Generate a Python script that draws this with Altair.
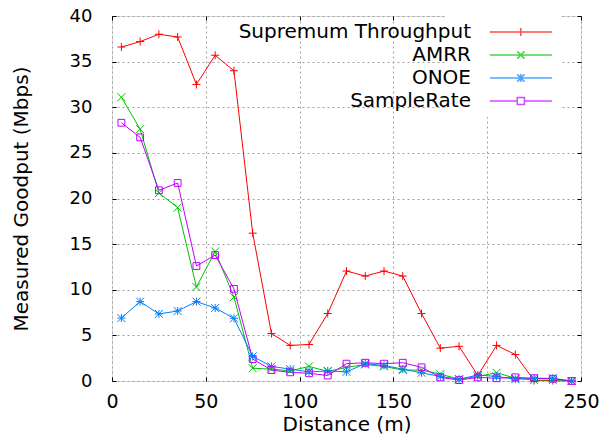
import altair as alt
import pandas as pd

distance = [5, 15, 25, 35, 45, 55, 65, 75, 85, 95, 105, 115, 125, 135, 145,
            155, 165, 175, 185, 195, 205, 215, 225, 235, 245]
supremum = [36.6, 37.2, 38.0, 37.7, 32.5, 35.7, 34.0, 16.2, 5.2, 3.9, 4.0, 7.4,
            12.05, 11.5, 12.05, 11.5, 7.4, 3.6, 3.8, 0.6, 3.9, 2.9, 0.05, 0.05, 0.0]
amrr = [31.1, 27.6, 20.6, 19.0, 10.3, 14.2, 9.2, 1.4, 1.3, 1.1, 1.6, 1.05, 1.5,
        1.8, 1.6, 1.2, 1.2, 0.75, 0.2, 0.5, 0.9, 0.3, 0.1, 0.1, 0.0]
onoe = [6.9, 8.7, 7.35, 7.67, 8.7, 8.0, 6.87, 2.7, 1.6, 1.3, 1.0, 1.1, 1.0, 1.9,
        1.7, 1.3, 0.9, 0.5, 0.2, 0.65, 0.5, 0.2, 0.3, 0.3, 0.0]
samplerate = [28.3, 26.7, 20.9, 21.7, 12.6, 13.8, 10.1, 2.4, 1.2, 0.95, 0.85, 0.6,
              1.9, 2.0, 1.9, 2.0, 1.5, 0.4, 0.1, 0.4, 0.3, 0.4, 0.3, 0.25, 0.0]

x_ticks = [0, 50, 100, 150, 200, 250]
y_ticks = [0, 5, 10, 15, 20, 25, 30, 35, 40]

series_names = ["Supremum Throughput", "AMRR", "ONOE", "SampleRate"]
series_values = [supremum, amrr, onoe, samplerate]
colors = ["#ff0000", "#00c000", "#0080ff", "#c000ff"]
marker_paths = [
    "M-1,0H1M0,-1V1",
    "M-1,-1L1,1M-1,1L1,-1",
    "M-1,0H1M0,-1V1M-1,-1L1,1M-1,1L1,-1",
    "M-0.85,-0.85H0.85V0.85H-0.85Z",
]
# legend sample: a line with the marker in its middle, drawn to the right of the label
legend_paths = [
    "M3.2,0H10.1M6.65,-0.45V0.45",
    "M3.2,0H10.1M6.25,-0.4L7.05,0.4M6.25,0.4L7.05,-0.4",
    "M3.2,0H10.1M6.65,-0.45V0.45M6.25,-0.4L7.05,0.4M6.25,0.4L7.05,-0.4",
    "M3.2,0H6.25M7.05,0H10.1M6.25,-0.4H7.05V0.4H6.25Z",
]

rows = []
for name, vals in zip(series_names, series_values):
    for d, v in zip(distance, vals):
        rows.append({"Distance": d, "Goodput": v, "Series": name})
df = pd.DataFrame(rows)

FONT = "DejaVu Sans"
TICK = 4

x_enc = alt.X("Distance:Q", scale=alt.Scale(domain=[0, 250], nice=False),
              axis=alt.Axis(title="Distance (m)", values=x_ticks,
                            grid=True, gridDash=[2, 3], gridColor="#a0a0a0",
                            ticks=True, tickSize=TICK, tickColor="black", offset=-TICK,
                            domain=False, labelPadding=11,
                            labelFontSize=19, labelFont=FONT, labelColor="black",
                            titleFontSize=20, titleFont=FONT, titleFontWeight="normal",
                            titleColor="black", titlePadding=3, labelFlush=False))
y_enc = alt.Y("Goodput:Q", scale=alt.Scale(domain=[0, 40], nice=False),
              axis=alt.Axis(title="Measured Goodput (Mbps)", values=y_ticks,
                            grid=True, gridDash=[2, 3], gridColor="#a0a0a0",
                            ticks=True, tickSize=TICK, tickColor="black", offset=-TICK,
                            domain=False, labelPadding=20,
                            labelFontSize=18, labelFont=FONT, labelColor="black",
                            titleFontSize=20, titleFont=FONT, titleFontWeight="normal",
                            titleColor="black", titlePadding=38))

color_enc = alt.Color("Series:N", scale=alt.Scale(domain=series_names, range=colors),
                      legend=None)

lines = alt.Chart(df).mark_line(strokeWidth=1).encode(
    x=x_enc, y=y_enc, color=color_enc, detail="Series:N")

points = alt.Chart(df).mark_point(filled=False, strokeWidth=1, size=64, opacity=1).encode(
    x=alt.X("Distance:Q", axis=None), y=alt.Y("Goodput:Q", axis=None), color=color_enc,
    shape=alt.Shape("Series:N", scale=alt.Scale(domain=series_names, range=marker_paths),
                    legend=None))

legend = alt.Legend(title=None, orient="none", legendX=333, legendY=0,
                    labelAlign="right", labelOffset=0, labelFontSize=20,
                    labelFont=FONT, labelColor="black", symbolSize=324,
                    symbolStrokeWidth=1.5, rowPadding=3, fillColor="white",
                    padding=6, labelLimit=400)

legend_layer = alt.Chart(df).transform_filter("false").mark_point(
    filled=False, strokeWidth=1.5).encode(
    x=alt.X("Distance:Q", axis=alt.Axis(orient="top", values=x_ticks, labels=False,
                                        title=None, grid=False, domain=False,
                                        ticks=True, tickSize=TICK, tickColor="black",
                                        offset=-TICK)),
    y=alt.Y("Goodput:Q", axis=alt.Axis(orient="right", values=y_ticks, labels=False,
                                       title=None, grid=False, domain=False,
                                       ticks=True, tickSize=TICK, tickColor="black",
                                       offset=-TICK)),
    color=alt.Color("Series:N", scale=alt.Scale(domain=series_names, range=colors),
                    legend=legend),
    shape=alt.Shape("Series:N", scale=alt.Scale(domain=series_names, range=legend_paths),
                    legend=legend))

chart = alt.layer(legend_layer, lines, points).resolve_scale(
    color="independent", shape="independent").resolve_axis(
    x="independent", y="independent").properties(
    width=469, height=365,
    autosize=alt.AutoSizeParams(type="none"),
    padding={"left": 104, "top": 8, "right": 23, "bottom": 58},
).configure_view(stroke="black", strokeWidth=1).configure(background="white")

chart.save("out.html", embed_options={"renderer": "svg", "actions": False})
